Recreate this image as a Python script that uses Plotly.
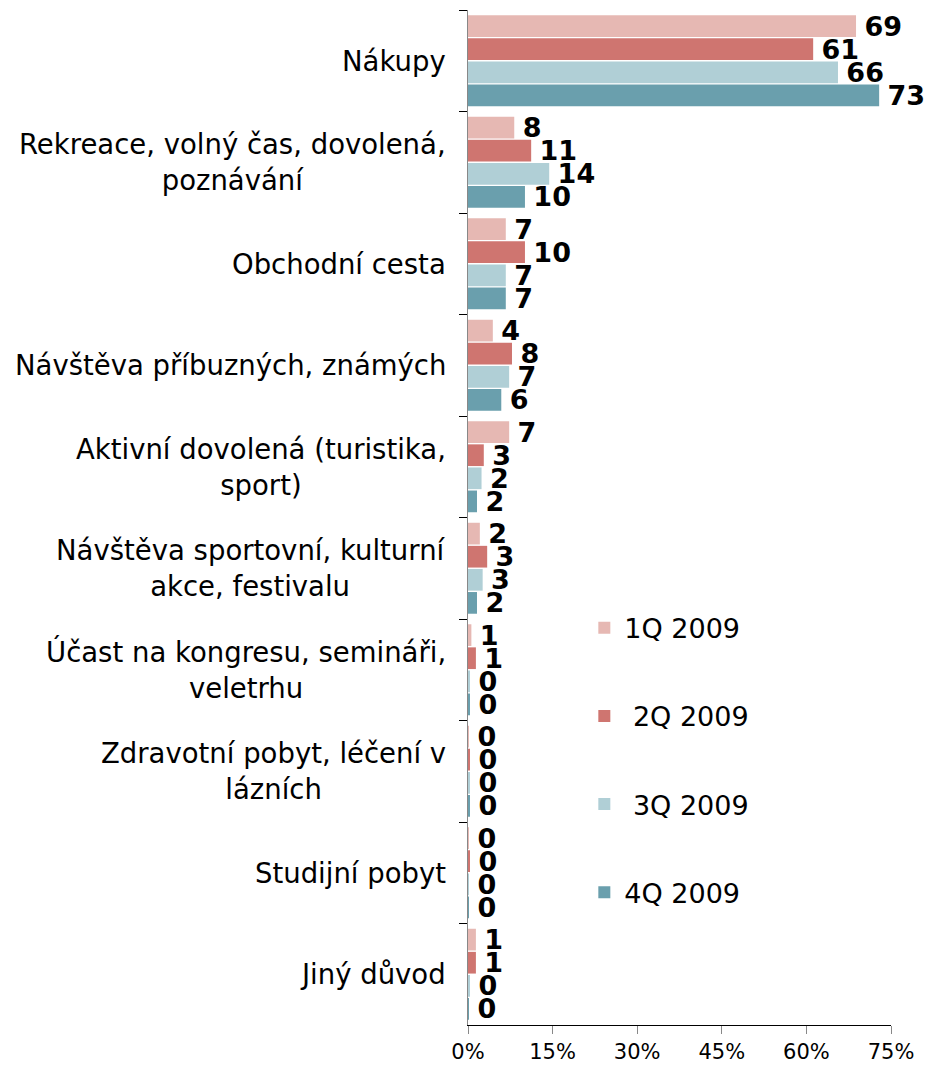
import plotly.graph_objects as go

categories = [
    "Nákupy",
    "Rekreace, volný čas, dovolená,<br>poznávání",
    "Obchodní cesta",
    "Návštěva příbuzných, známých",
    "Aktivní dovolená (turistika,<br>sport)",
    "Návštěva sportovní, kulturní<br>akce, festivalu",
    "Účast na kongresu, semináři,<br>veletrhu",
    "Zdravotní pobyt, léčení v<br>lázních",
    "Studijní pobyt",
    "Jiný důvod",
]
series_names = ["1Q 2009", " 2Q 2009", " 3Q 2009", "4Q 2009"]
q1 = [68.8, 8.2, 6.7, 4.4, 7.3, 2.1, 0.6, 0.1, 0.1, 1.4]
q2 = [61.2, 11.2, 10.1, 7.8, 2.8, 3.4, 1.4, 0.3, 0.3, 1.4]
q3 = [65.6, 14.4, 6.7, 7.3, 2.4, 2.6, 0.2, 0.2, 0.1, 0.2]
q4 = [72.9, 10.1, 6.7, 5.9, 1.6, 1.6, 0.2, 0.2, 0.1, 0.1]
colors = ["#E6B8B3", "#CF7570", "#B0CFD6", "#6A9FAD"]
x_ticks = [0, 15, 30, 45, 60, 75]
x_tick_labels = ["0%", "15%", "30%", "45%", "60%", "75%"]

FONT = "DejaVu Sans"
fig = go.Figure()
for name, vals, col in zip(series_names, [q1, q2, q3, q4], colors):
    fig.add_trace(go.Bar(
        y=categories, x=vals, name=name, orientation="h",
        marker=dict(color=col, line=dict(width=0)),
        text=["\u2009" + f"{round(v)}" for v in vals],
        textposition="outside",
        textfont=dict(family=FONT, size=27, color="black", weight="bold"),
        cliponaxis=False,
        constraintext="none",
        legendgroup=name,
        hoverinfo="skip",
    ))

for c in categories:
    fig.add_annotation(
        x=0, xref="paper", y=c, yref="y", text=c, showarrow=False,
        xanchor="right", xshift=-20, align="center",
        font=dict(family=FONT, size=27.5, color="black"),
    )

fig.update_layout(
    width=927, height=1069,
    margin=dict(l=468, r=36, t=10, b=44, autoexpand=False),
    paper_bgcolor="white", plot_bgcolor="white",
    barmode="group", bargap=0.09, bargroupgap=0.06,
    font=dict(family=FONT, color="black"),
    legend=dict(
        x=0.275, y=0.415, xanchor="left", yanchor="top",
        font=dict(family=FONT, size=27, color="black"),
        tracegroupgap=50, bgcolor="rgba(0,0,0,0)",
    ),
    showlegend=True,
)
fig.update_xaxes(
    range=[0, 75], tickvals=x_ticks, ticktext=x_tick_labels,
    ticks="outside", ticklen=8, tickcolor="#888888",
    showline=True, linecolor="black", linewidth=1,
    showgrid=False, zeroline=False,
    tickfont=dict(family=FONT, size=21, color="black"),
)
fig.update_yaxes(
    autorange="reversed", showticklabels=False,
    ticks="outside", ticklen=8, tickson="boundaries", tickcolor="black",
    showline=True, linecolor="#888888", linewidth=1,
    showgrid=False,
)
fig.write_html(
    "out.html",
    config={"displayModeBar": False},
    post_script="document.body.style.margin='0';document.body.style.overflow='hidden';",
)
